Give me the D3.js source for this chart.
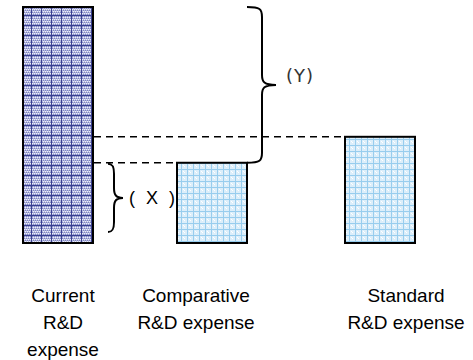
<!DOCTYPE html>
<html><head><meta charset="utf-8">
<script src="https://cdn.jsdelivr.net/npm/d3@7"></script>
<style>html,body{margin:0;padding:0;background:#fff;}svg{display:block;}</style>
</head><body>
<script>
const categories = ["Current", "Comparative", "Standard"];
const values = [100, 34, 45];
const labelLines = [["Current", "R&D", "expense"], ["Comparative", "R&D expense"], ["Standard", "R&D expense"]];
const braceLabels = ["( X )", "(Y)"];

const W = 473, H = 360;
const svg = d3.select("body").append("svg").attr("width", W).attr("height", H);
const defs = svg.append("defs");

// dark plaid pattern
const pd = defs.append("pattern").attr("id", "dark").attr("patternUnits", "userSpaceOnUse")
  .attr("width", 10).attr("height", 10).attr("x", 23).attr("y", 7);
pd.append("rect").attr("width", 10).attr("height", 10).attr("fill", "#b4b8de");
for (let i = 0; i < 10; i += 2) for (let j = 0; j < 10; j += 2) {
  pd.append("rect").attr("x", i + ((j/2)%2)).attr("y", j).attr("width", 1).attr("height", 1).attr("fill", "#eef0fa");
  pd.append("rect").attr("x", i + 1 - ((j/2)%2)).attr("y", j + 1).attr("width", 1).attr("height", 1).attr("fill", "#7e84c0");
}
pd.append("rect").attr("x", 8).attr("width", 1).attr("height", 10).attr("fill", "#3a4090");
pd.append("rect").attr("y", 8).attr("width", 10).attr("height", 1).attr("fill", "#3a4090");

// light plaid pattern
const pl = defs.append("pattern").attr("id", "light").attr("patternUnits", "userSpaceOnUse")
  .attr("width", 6).attr("height", 6);
pl.append("rect").attr("width", 6).attr("height", 6).attr("fill", "#dceefa");
pl.append("rect").attr("x", 1).attr("width", 1).attr("height", 6).attr("fill", "#98cdee");
pl.append("rect").attr("y", 1).attr("width", 6).attr("height", 1).attr("fill", "#98cdee");
pl.append("rect").attr("x", 4).attr("y", 4).attr("width", 1).attr("height", 1).attr("fill", "#ffffff");
pl.append("rect").attr("x", 3).attr("y", 3).attr("width", 1).attr("height", 1).attr("fill", "#ffffff");

const barW = 70;
const xs = d3.scaleOrdinal().domain(categories).range([23, 177, 345]);
const y = d3.scaleLinear().domain([0, 100]).range([243, 7]);

svg.selectAll("rect.bar").data(categories).join("rect").attr("class", "bar")
  .attr("x", d => xs(d)).attr("width", barW)
  .attr("y", (d, i) => y(values[i])).attr("height", (d, i) => y(0) - y(values[i]))
  .attr("fill", (d, i) => i === 0 ? "url(#dark)" : "url(#light)")
  .attr("stroke", "#000").attr("stroke-width", 2);

// dashed reference lines
const x1Right = xs(categories[0]) + barW;
svg.append("line").attr("x1", x1Right + 1).attr("x2", xs(categories[2]))
  .attr("y1", y(values[2])).attr("y2", y(values[2]))
  .attr("stroke", "#000").attr("stroke-width", 1.6).attr("stroke-dasharray", "7,5");
svg.append("line").attr("x1", x1Right + 1).attr("x2", xs(categories[1]))
  .attr("y1", y(values[1])).attr("y2", y(values[1]))
  .attr("stroke", "#000").attr("stroke-width", 1.6).attr("stroke-dasharray", "7,5");

function brace(x0, xv, xt, y1, y2) {
  const m = (y1 + y2) / 2;
  const r = 10;
  return `M${x0},${y1} C${xv-2},${y1} ${xv},${y1+2} ${xv},${y1+r}` +
    ` L${xv},${m-r} C${xv},${m-3} ${xv+2},${m} ${xt},${m}` +
    ` C${xv+2},${m} ${xv},${m+3} ${xv},${m+r}` +
    ` L${xv},${y2-r} C${xv},${y2-2} ${xv-2},${y2} ${x0},${y2}`;
}
svg.append("path").attr("d", brace(108, 114, 123, y(values[1]) + 1, y(0) - 11))
  .attr("fill", "none").attr("stroke", "#000").attr("stroke-width", 2);
svg.append("path").attr("d", brace(247, 262, 276, y(values[0]), y(values[1])))
  .attr("fill", "none").attr("stroke", "#000").attr("stroke-width", 2);

svg.append("text").attr("x", 129).attr("y", 204).attr("font-family", "Liberation Sans, Arial, sans-serif")
  .attr("font-size", 18).attr("letter-spacing", 3).style("white-space", "pre").attr("fill", "#000").text(braceLabels[0]);
svg.append("text").attr("x", 286).attr("y", 82).attr("font-family", "DejaVu Sans, sans-serif")
  .attr("font-size", 18).attr("letter-spacing", 1).attr("fill", "#333").text(braceLabels[1]);

const labelX = [63, 196, 406];
labelLines.forEach((lines, i) => {
  const t = svg.append("text").attr("text-anchor", "middle")
    .attr("font-family", "Liberation Sans, Arial, sans-serif").attr("font-size", 19).attr("fill", "#000");
  lines.forEach((ln, k) => t.append("tspan").attr("x", labelX[i]).attr("y", 302 + k * 27).text(ln));
});
</script>
</body></html>
